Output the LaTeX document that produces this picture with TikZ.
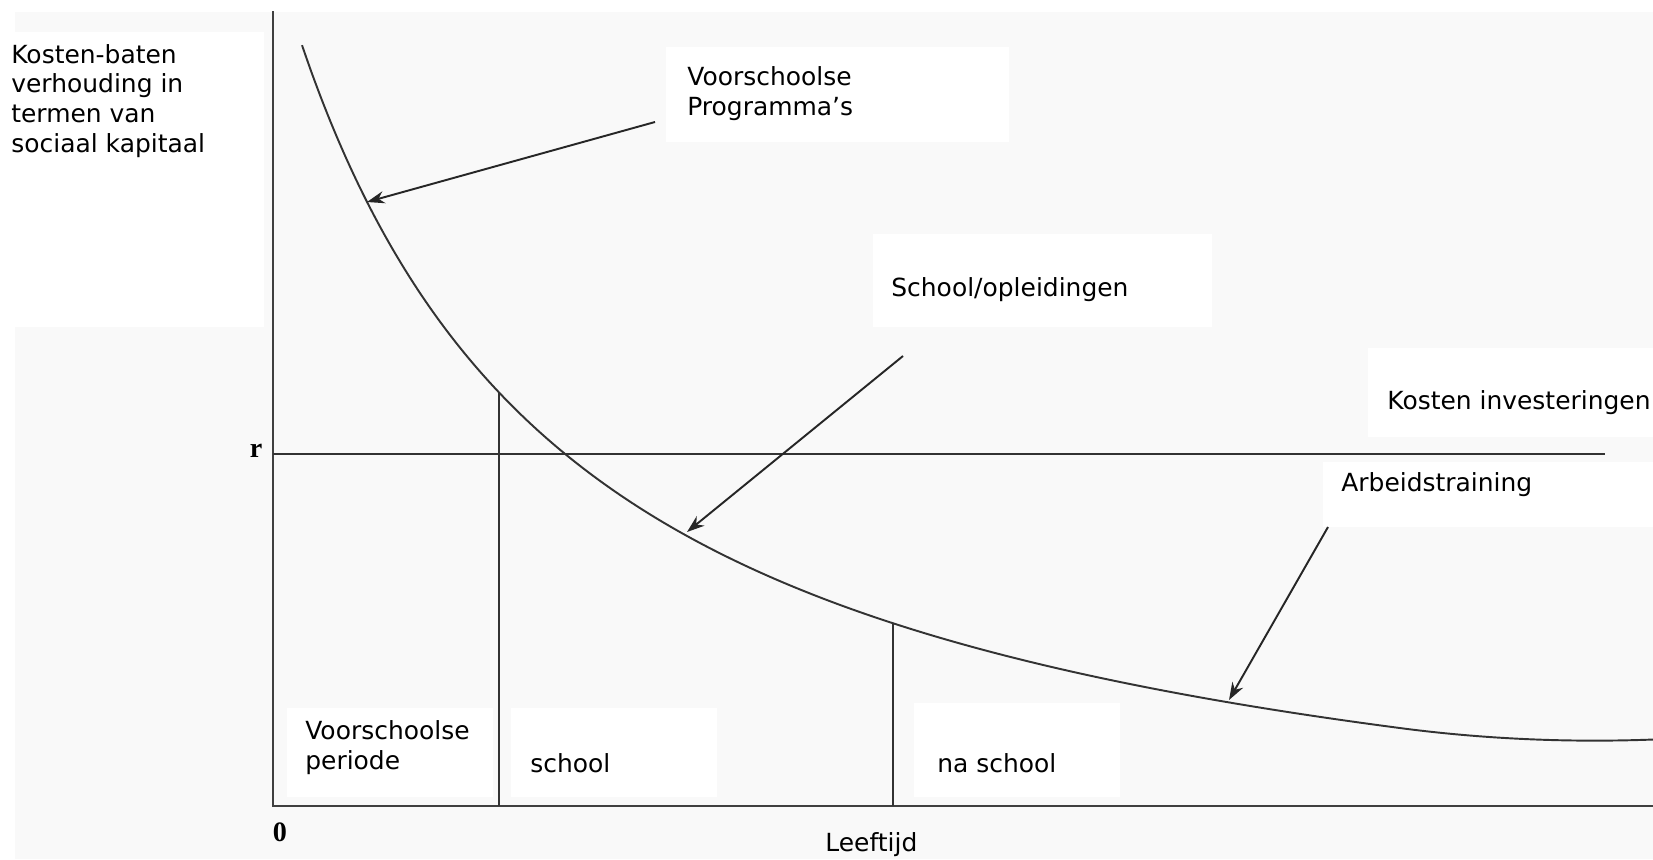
\documentclass[tikz,border=0pt]{standalone}
\usepackage{fontspec}
\setmainfont{DejaVu Sans}
\newfontfamily\scanfont{Liberation Serif}
\usetikzlibrary{arrows.meta}

\tikzset{
  lbl/.style={anchor=west, inner sep=0pt, align=left,
    font=\fontsize{14.2}{17}\selectfont},
  tick/.style={inner sep=0pt, font=\scanfont\bfseries\fontsize{16}{16}\selectfont},
  axis/.style={line width=1.6pt, black!75},
  guide/.style={line width=1.1pt, black!80},
  pointer/.style={line width=1.1pt, black!85, -{Stealth[length=10pt,width=7pt]}},
}

\begin{document}
\begin{tikzpicture}[x=0.02cm, y=-0.02cm]
  \useasboundingbox (0,0) rectangle (1653,859);
  % scan background with white patches under the labels
  \fill[gray!5] (15,12) rectangle (1653,859);
  \foreach \xa/\ya/\xb/\yb in {0/32/264/327, 666/47/1009/142, 873/234/1212/327,
      1368/348/1653/437, 1323/462/1653/527, 287/708/493/797, 511/708/717/797,
      914/703/1120/797}
    \fill[white] (\xa,\ya) rectangle (\xb,\yb);

  \coordinate (O) at (273,806);
  \coordinate (ytop) at (273,11);
  \coordinate (xend) at (1653,806);
  \coordinate (rl) at (273,454);
  \coordinate (rr) at (1605,454);
  \coordinate (c1) at (499,392);
  \coordinate (b1) at (499,806);
  \coordinate (c2) at (893,623);
  \coordinate (b2) at (893,806);

  % axes and r-line
  \draw[axis] (ytop) -- (O) -- (xend);
  \draw[guide] (rl) -- (rr);
  \draw[guide] (c1) -- (b1);
  \draw[guide] (c2) -- (b2);

  % the return curve
  \draw[guide] plot[domain=302:1653, samples=150, smooth]
    (\x, {806 - (-105 + 2547.18/(\x/100-0.078) + 2.6*(max(\x-1400,0)/100)^2)});

  \node[tick] (r) at (256,451) {r};
  \node[tick] (nul) at (280,832) {0};

  \node[lbl] (yl) at (11,101) {Kosten-baten\\verhouding in\\termen van\\sociaal kapitaal};
  \node[lbl] (vp) at (687,94) {Voorschoolse\\Programma’s};
  \node[lbl] (so) at (891,290) {School/opleidingen};
  \node[lbl] (ki) at (1387,403) {Kosten investeringen};
  \node[lbl] (at) at (1341,485) {Arbeidstraining};
  \node[lbl] (pv) at (305,748) {Voorschoolse\\periode};
  \node[lbl] (sc) at (530,763) {school};
  \node[lbl] (ns) at (937,763) {na school};
  \node[lbl] (lt) at (825,845) {Leeftijd};

  \coordinate (vps) at (655,122);
  \coordinate (vpt) at (367,202);
  \coordinate (sos) at (903,356);
  \coordinate (sot) at (687,532);
  \coordinate (ats) at (1328,527);
  \coordinate (att) at (1229,700);
  \draw[pointer] (vps) -- (vpt);
  \draw[pointer] (sos) -- (sot);
  \draw[pointer] (ats) -- (att);
\end{tikzpicture}
\end{document}
